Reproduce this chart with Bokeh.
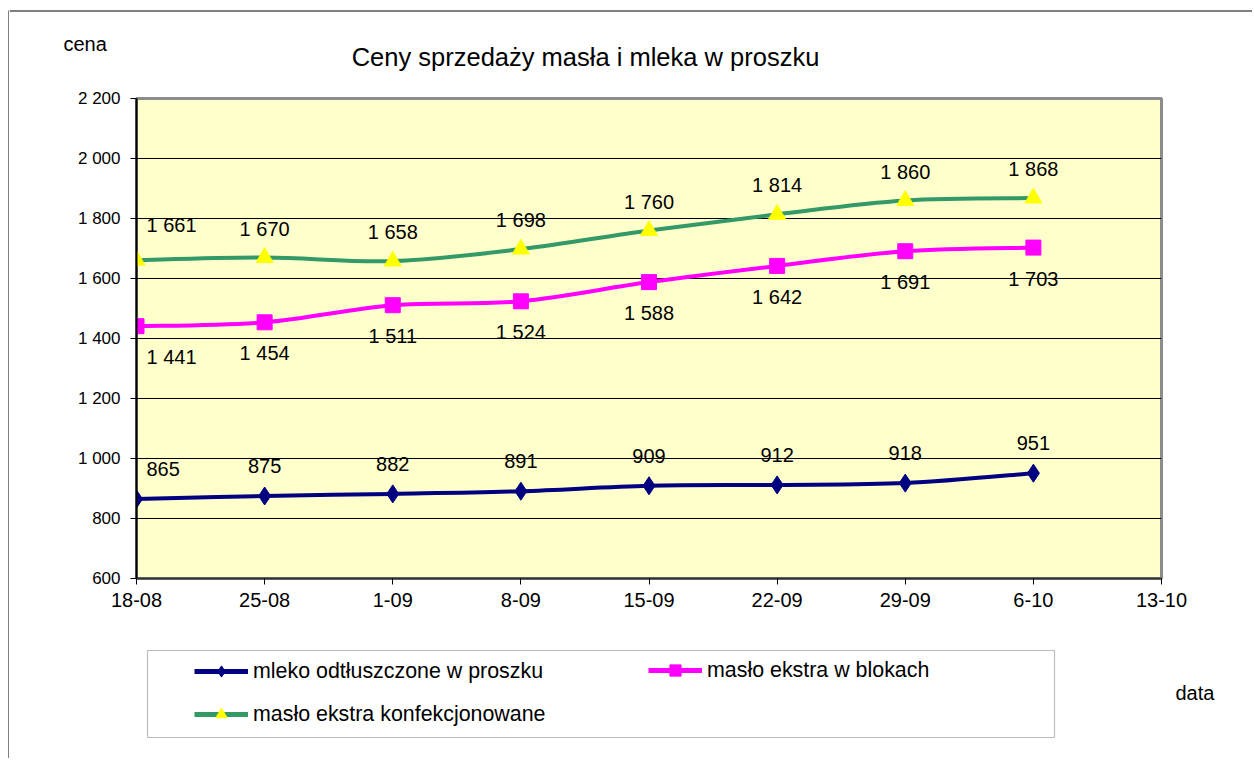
from bokeh.plotting import figure
from bokeh.models import (ColumnDataSource, Range1d, FixedTicker, Label, Legend,
                          LegendItem, BoxAnnotation)
from bokeh.layouts import row, column
from bokeh.core.properties import value
from bokeh.embed import file_html
from bokeh.resources import INLINE

# ---------------- data ----------------
dates = ["18-08", "25-08", "1-09", "8-09", "15-09", "22-09", "29-09", "6-10", "13-10"]
mleko = [865, 875, 882, 891, 909, 912, 918, 951]
maslo_bloki = [1441, 1454, 1511, 1524, 1588, 1642, 1691, 1703]
maslo_konf = [1661, 1670, 1658, 1698, 1760, 1814, 1860, 1868]
y_ticks = [600, 800, 1000, 1200, 1400, 1600, 1800, 2000, 2200]
y_tick_labels = ["600", "800", "1 000", "1 200", "1 400", "1 600", "1 800", "2 000", "2 200"]

title_text = "Ceny sprzedaży masła i mleka w proszku"
y_title = "cena"
x_title = "data"
names = ["mleko odtłuszczone w proszku", "masło ekstra w blokach", "masło ekstra konfekcjonowane"]

FONT = "Liberation Sans"
NAVY = "#000080"
MAGENTA = "#FF00FF"
GREEN = "#339966"
YELLOW = "#FFFF00"

STRIP_W = 9
COL_W = 1243
TOP_H = 80
MAIN_H = 560
BOT_H = 118
TOTAL_H = TOP_H + MAIN_H + BOT_H
NAN = float("nan")


def fmt(v):
    return f"{v:,}".replace(",", " ")


def blank_fig(w, h):
    f = figure(width=w, height=h, output_backend="svg", toolbar_location=None,
               x_range=Range1d(0, w), y_range=Range1d(0, h),
               x_axis_type=None, y_axis_type=None,
               min_border_left=0, min_border_right=0, min_border_top=0,
               min_border_bottom=0, frame_align=False)
    f.outline_line_color = None
    f.background_fill_color = "white"
    f.border_fill_color = "white"
    return f


# ---------------- left strip (outer frame, left edge) ----------------
strip = blank_fig(STRIP_W, TOTAL_H)
strip.add_layout(BoxAnnotation(left=8, right=9, bottom=0, top=TOTAL_H - 10,
                               fill_color="black", fill_alpha=1, line_color=None))

# ---------------- top strip (titles) ----------------
top = blank_fig(COL_W, TOP_H)
top.add_layout(BoxAnnotation(left=0, right=COL_W, bottom=TOP_H - 11, top=TOP_H - 10,
                             fill_color="black", fill_alpha=1, line_color=None))
top.add_layout(Label(x=54, y=TOP_H - 43, text=y_title, text_align="left",
                     text_baseline="middle", text_font=FONT, text_font_size="20px",
                     text_color="black"))
top.add_layout(Label(x=576, y=TOP_H - 56, text=title_text, text_align="center",
                     text_baseline="middle", text_font=FONT, text_font_size="25.5px",
                     text_color="black"))

# ---------------- main chart ----------------
p = figure(width=COL_W, height=MAIN_H, output_backend="svg", toolbar_location=None,
           x_range=Range1d(0, len(dates) - 1), y_range=Range1d(600, 2200),
           min_border_left=127, min_border_right=91, min_border_top=18,
           min_border_bottom=62, frame_align=False)
p.background_fill_color = "#FFFFCC"
p.border_fill_color = "white"
p.outline_line_color = "#8C8C8C"
p.outline_line_width = 3

p.xaxis.ticker = FixedTicker(ticks=list(range(len(dates))))
p.xaxis.major_label_overrides = {i: d for i, d in enumerate(dates)}
p.yaxis.ticker = FixedTicker(ticks=y_ticks)
p.yaxis.major_label_overrides = {t: l for t, l in zip(y_ticks, y_tick_labels)}
for ax in (p.xaxis, p.yaxis):
    ax.axis_line_color = "black"
    ax.axis_line_width = 2
    ax.major_tick_line_color = "black"
    ax.major_tick_line_width = 1
    ax.major_tick_out = 6
    ax.major_tick_in = 0
    ax.minor_tick_line_color = None
    ax.major_label_text_font = FONT
    ax.major_label_text_color = "black"
p.xaxis.major_label_text_font_size = "20px"
p.yaxis.major_label_text_font_size = "17px"
p.xaxis.major_label_standoff = 8
p.yaxis.major_label_standoff = 10
p.xaxis.axis_line_color = "#333333"

p.xgrid.grid_line_color = None
p.ygrid.grid_line_color = "black"
p.ygrid.grid_line_width = 1


def smooth(xs, ys):
    # Bezier control points derived from the data (Catmull-Rom style smoothing)
    n = len(xs)
    d = dict(x0=[], y0=[], x1=[], y1=[], cx0=[], cy0=[], cx1=[], cy1=[])
    for i in range(n - 1):
        xa, ya = xs[max(i - 1, 0)], ys[max(i - 1, 0)]
        xb, yb = xs[i], ys[i]
        xc, yc = xs[i + 1], ys[i + 1]
        xd, yd = xs[min(i + 2, n - 1)], ys[min(i + 2, n - 1)]
        d["x0"].append(xb); d["y0"].append(yb)
        d["x1"].append(xc); d["y1"].append(yc)
        d["cx0"].append(xb + (xc - xa) / 6.0); d["cy0"].append(yb + (yc - ya) / 6.0)
        d["cx1"].append(xc - (xd - xb) / 6.0); d["cy1"].append(yc - (yd - yb) / 6.0)
    return ColumnDataSource(d)


series = [
    (mleko, NAVY, "diamond", NAVY, 18, -30),
    (maslo_bloki, MAGENTA, "square", MAGENTA, 15, 31),
    (maslo_konf, GREEN, "triangle", YELLOW, 17, -29),
]

for vals, lc, marker, mc, msize, dy in series:
    xs = list(range(len(vals)))
    src = ColumnDataSource(dict(x=xs, y=vals))
    p.bezier(x0="x0", y0="y0", x1="x1", y1="y1", cx0="cx0", cy0="cy0",
             cx1="cx1", cy1="cy1", source=smooth(xs, vals), line_color=lc,
             line_width=4)
    p.scatter("x", "y", source=src, marker=marker, size=msize,
              fill_color=mc, line_color=mc)

    offs_y = [dy] * len(vals)
    offs_x = [0] * len(vals)
    aligns = ["center"] * len(vals)
    offs_x[0] = 10
    aligns[0] = "left"
    if marker == "triangle":
        offs_y[0] = -35
    lsrc = ColumnDataSource(dict(x=xs, y=vals, t=[fmt(v) for v in vals],
                                 dx=offs_x, dy=offs_y, al=aligns))
    p.text("x", "y", text="t", source=lsrc, x_offset="dx", y_offset="dy",
           text_align="al", text_baseline="middle", text_font_size="20px",
           text_font=value(FONT), text_color="black")

# ---------------- bottom strip (legend) ----------------
bot = blank_fig(COL_W, BOT_H)
proxies = []
legend_marker_sizes = [11, 12, 13]
for (vals, lc, marker, mc, msize, dy), ms in zip(series, legend_marker_sizes):
    # legend-only proxies (not drawn: NaN position)
    ln = bot.line(x=[NAN, NAN], y=[NAN, NAN], line_color=lc, line_width=5)
    mk = bot.scatter(x=[NAN], y=[NAN], marker=marker, size=ms, fill_color=mc,
                     line_color=mc)
    proxies.append([ln, mk])

common = dict(padding=0, margin=0, border_line_color=None, background_fill_alpha=0,
              label_text_font=FONT, label_text_font_size="21.4px",
              label_text_color="black", label_height=20,
              glyph_height=28, glyph_width=54, label_standoff=5, spacing=15)
leg1 = Legend(items=[LegendItem(label=names[0], renderers=proxies[0]),
                     LegendItem(label=names[2], renderers=proxies[2])],
              location=(185, 30), **common)
leg2 = Legend(items=[LegendItem(label=names[1], renderers=proxies[1])],
              location=(639, 74), **common)
bot.add_layout(leg1, "center")
bot.add_layout(leg2, "center")
bot.add_layout(BoxAnnotation(left=138, right=1045, top=BOT_H - 10, bottom=BOT_H - 97,
                             fill_alpha=0, line_color="#222222", line_width=1.2))
bot.add_layout(Label(x=1166, y=BOT_H - 52, text=x_title, text_align="left",
                     text_baseline="middle", text_font=FONT, text_font_size="20px",
                     text_color="black"))

layout = row(strip, column(top, p, bot, spacing=0), spacing=0)
open("out.html", "w").write(file_html(layout, INLINE))
